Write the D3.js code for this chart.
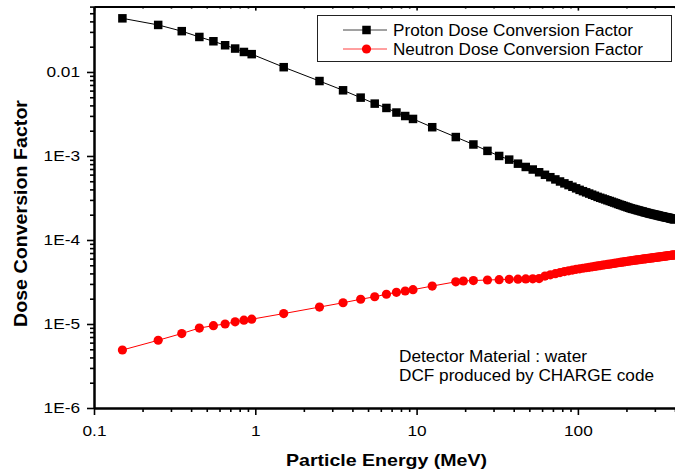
<!DOCTYPE html>
<html><head><meta charset="utf-8">
<script src="https://cdn.jsdelivr.net/npm/d3@7"></script>
<style>
body{margin:0;background:#fff;}
svg{display:block;font-family:"Liberation Sans",Arial,Helvetica,sans-serif;}
</style>
</head><body>
<svg id="chart" width="675" height="476"></svg>
<script>
// ---------- data ----------
const protonEnergy = [0.15,0.25,0.35,0.45,0.55,0.65,0.75,0.85,0.95,1.5,2.5,3.5,4.5,5.5,6.5,7.5,8.5,9.5,
  12.5,17.5,22.5,27.5,32.5,37.5,42.5,47.5,52.5,57.5,
  62.5,67.5,72.5,77.5,82.5,87.5,92.5,97.5,102.5,107.5,112.5,117.5,122.5,127.5,132.5,137.5,142.5,147.5,
  152.5,157.5,162.5,167.5,172.5,177.5,182.5,187.5,192.5,197.5,202.5,207.5,212.5,217.5,222.5,227.5,
  232.5,237.5,242.5,247.5,252.5,257.5,262.5,267.5,272.5,277.5,282.5,287.5,292.5,297.5,302.5,307.5,
  312.5,317.5,322.5,327.5,332.5,337.5,342.5,347.5,352.5,357.5,362.5,367.5,372.5,377.5,382.5,387.5,392.5,397.5];
const protonDCF = [4.35e-2,3.63e-2,3.06e-2,2.61e-2,2.32e-2,2.08e-2,1.90e-2,1.73e-2,1.63e-2,1.14e-2,7.8e-3,
  6.05e-3,4.95e-3,4.2e-3,3.73e-3,3.29e-3,2.99e-3,2.76e-3,
  2.2e-3,1.68e-3,1.37e-3,1.15e-3,1.0e-3,9.05e-4,8.1e-4,7.4e-4,6.9e-4,6.4e-4,
  5.97e-4,5.59e-4,5.26e-4,4.97e-4,4.72e-4,4.50e-4,4.30e-4,4.12e-4,3.95e-4,3.81e-4,3.69e-4,3.57e-4,3.46e-4,3.36e-4,3.26e-4,3.18e-4,3.11e-4,3.04e-4,
  2.97e-4,2.91e-4,2.85e-4,2.79e-4,2.74e-4,2.68e-4,2.63e-4,2.59e-4,2.54e-4,2.50e-4,2.46e-4,2.42e-4,2.38e-4,2.35e-4,2.33e-4,2.30e-4,
  2.27e-4,2.25e-4,2.22e-4,2.20e-4,2.18e-4,2.15e-4,2.13e-4,2.11e-4,2.09e-4,2.07e-4,2.05e-4,2.04e-4,2.02e-4,2.01e-4,1.99e-4,1.98e-4,
  1.96e-4,1.95e-4,1.93e-4,1.92e-4,1.91e-4,1.90e-4,1.88e-4,1.87e-4,1.86e-4,1.85e-4,1.84e-4,1.83e-4,1.81e-4,1.80e-4,1.79e-4,1.78e-4,1.77e-4,1.76e-4];
const neutronEnergy = [0.15,0.25,0.35,0.45,0.55,0.65,0.75,0.85,0.95,1.5,2.5,3.5,4.5,5.5,6.5,7.5,8.5,9.5,
  12.5,17.5,19.5,22.5,27.5,32.5,37.5,42.5,47.5,52.5,57.5,
  62.5,67.5,72.5,77.5,82.5,87.5,92.5,97.5,102.5,107.5,112.5,117.5,122.5,127.5,132.5,137.5,142.5,147.5,
  152.5,157.5,162.5,167.5,172.5,177.5,182.5,187.5,192.5,197.5,202.5,207.5,212.5,217.5,222.5,227.5,
  232.5,237.5,242.5,247.5,252.5,257.5,262.5,267.5,272.5,277.5,282.5,287.5,292.5,297.5,302.5,307.5,
  312.5,317.5,322.5,327.5,332.5,337.5,342.5,347.5,352.5,357.5,362.5,367.5,372.5,377.5,382.5,387.5,392.5,397.5];
const neutronDCF = [4.9e-6,6.4e-6,7.7e-6,8.95e-6,9.55e-6,1.0e-5,1.06e-5,1.11e-5,1.14e-5,1.33e-5,1.59e-5,
  1.79e-5,1.97e-5,2.11e-5,2.26e-5,2.38e-5,2.47e-5,2.56e-5,
  2.83e-5,3.18e-5,3.25e-5,3.29e-5,3.34e-5,3.37e-5,3.40e-5,3.42e-5,3.44e-5,3.45e-5,3.47e-5,
  3.72e-5,3.85e-5,3.97e-5,4.09e-5,4.21e-5,4.30e-5,4.38e-5,4.47e-5,4.54e-5,4.61e-5,4.67e-5,4.73e-5,4.79e-5,4.85e-5,4.91e-5,4.96e-5,5.01e-5,5.07e-5,
  5.12e-5,5.16e-5,5.21e-5,5.26e-5,5.31e-5,5.36e-5,5.40e-5,5.45e-5,5.48e-5,5.53e-5,5.57e-5,5.61e-5,5.65e-5,5.69e-5,5.73e-5,5.75e-5,
  5.79e-5,5.82e-5,5.85e-5,5.89e-5,5.92e-5,5.95e-5,5.97e-5,6.00e-5,6.03e-5,6.06e-5,6.09e-5,6.12e-5,6.14e-5,6.17e-5,6.20e-5,6.22e-5,
  6.25e-5,6.27e-5,6.30e-5,6.32e-5,6.35e-5,6.37e-5,6.40e-5,6.42e-5,6.45e-5,6.47e-5,6.49e-5,6.52e-5,6.54e-5,6.56e-5,6.59e-5,6.61e-5,6.63e-5,6.65e-5];

const xTickValues = [0.1, 1, 10, 100];
const xTickLabels = ["0.1", "1", "10", "100"];
const yTickValues = [1e-6, 1e-5, 1e-4, 1e-3, 1e-2];
const yTickLabels = ["1E-6", "1E-5", "1E-4", "1E-3", "0.01"];
const seriesNames = ["Proton Dose Conversion Factor", "Neutron Dose Conversion Factor"];
const noteLines = ["Detector Material : water", "DCF produced by CHARGE code"];
const xTitle = "Particle Energy (MeV)";
const yTitle = "Dose Conversion Factor";

// ---------- layout ----------
const svg = d3.select("#chart");
const STRETCH = 1.15;
const x = d3.scaleLog().domain([0.1, 400]).range([94, 675]);
const y = d3.scaleLog().domain([1e-6, 0.06]).range([408, 6.6]);

function minorTicks(lo, hi) {
  const out = [];
  for (let d = lo; d < hi; d *= 10)
    for (let k = 2; k <= 9; k++) { const v = k * d; if (v <= hi * 1.0001) out.push(v); }
  return out;
}
const xMinor = minorTicks(0.1, 400);
const yMinor = minorTicks(1e-6, 0.06);

function stretchText(sel, factor) {
  sel.each(function () {
    const w = this.getComputedTextLength();
    d3.select(this).attr("textLength", w * factor).attr("lengthAdjust", "spacingAndGlyphs");
  });
}

// ---------- series ----------
const protonPts = protonEnergy.map((e, i) => [e, protonDCF[i]]);
const neutronPts = neutronEnergy.map((e, i) => [e, neutronDCF[i]]);
const line = d3.line().x(d => x(d[0])).y(d => y(d[1]));

svg.append("path").datum(protonPts).attr("d", line)
  .attr("fill", "none").attr("stroke", "#000").attr("stroke-width", 1);
svg.append("path").datum(neutronPts).attr("d", line)
  .attr("fill", "none").attr("stroke", "#ff0000").attr("stroke-width", 1);

const sq = 8.5;
svg.append("g").selectAll("rect").data(protonPts).join("rect")
  .attr("x", d => x(d[0]) - sq / 2).attr("y", d => y(d[1]) - sq / 2)
  .attr("width", sq).attr("height", sq)
  .attr("fill", "#000");
svg.append("g").selectAll("circle").data(neutronPts).join("circle")
  .attr("cx", d => x(d[0])).attr("cy", d => y(d[1])).attr("r", 4.6)
  .attr("fill", "#ff0000");

// ---------- axes ----------
function styleAxis(g) {
  g.select(".domain").attr("stroke", "#000").attr("stroke-width", 2);
  g.selectAll(".tick line").attr("stroke", "#000").attr("stroke-width", 1.6);
  g.selectAll(".tick text").attr("fill", "#000").attr("font-size", 15)
    .attr("font-family", "'Liberation Sans', Arial, sans-serif");
}

// bottom
const gxMinor = svg.append("g").attr("transform", "translate(0,408)")
  .call(d3.axisBottom(x).tickValues(xMinor).tickSize(4).tickSizeOuter(0).tickFormat(""));
styleAxis(gxMinor);
const gx = svg.append("g").attr("transform", "translate(0,408)")
  .call(d3.axisBottom(x).tickValues(xTickValues).tickSize(7).tickSizeOuter(0)
    .tickPadding(10).tickFormat((d, i) => xTickLabels[i]));
styleAxis(gx);
stretchText(gx.selectAll(".tick text"), STRETCH);

// left
const gyMinor = svg.append("g").attr("transform", "translate(94,0)")
  .call(d3.axisLeft(y).tickValues(yMinor).tickSize(4).tickSizeOuter(0).tickFormat(""));
styleAxis(gyMinor);
const gy = svg.append("g").attr("transform", "translate(94,0)")
  .call(d3.axisLeft(y).tickValues(yTickValues).tickSize(7).tickSizeOuter(0)
    .tickPadding(7).tickFormat((d, i) => yTickLabels[i]));
styleAxis(gy);
stretchText(gy.selectAll(".tick text"), STRETCH);

// top frame with small inward ticks
const gtMinor = svg.append("g").attr("transform", "translate(0,6.6)")
  .call(d3.axisTop(x).tickValues(xMinor).tickSize(-2).tickSizeOuter(0).tickFormat(""));
styleAxis(gtMinor);
const gt = svg.append("g").attr("transform", "translate(0,6.6)")
  .call(d3.axisTop(x).tickValues(xTickValues).tickSize(-4).tickSizeOuter(0).tickFormat(""));
styleAxis(gt);

// ---------- titles ----------
const xt = svg.append("text").attr("x", 386.5).attr("y", 466)
  .attr("text-anchor", "middle").attr("font-weight", "bold").attr("font-size", 17)
  .attr("fill", "#000").text(xTitle);
xt.attr("textLength", 201).attr("lengthAdjust", "spacingAndGlyphs");

const yt = svg.append("text").attr("transform", "translate(27,213.5) rotate(-90)")
  .attr("text-anchor", "middle").attr("font-weight", "bold").attr("font-size", 18)
  .attr("fill", "#000").text(yTitle);
yt.attr("textLength", 227).attr("lengthAdjust", "spacingAndGlyphs");

// ---------- legend ----------
const lg = svg.append("g");
lg.append("rect").attr("x", 317.5).attr("y", 15.5).attr("width", 354).attr("height", 46)
  .attr("fill", "#fff").attr("stroke", "#222").attr("stroke-width", 1);
const rows = [
  {name: seriesNames[0], color: "#000", lineColor: "#444", y: 30, w: 240, marker: "square"},
  {name: seriesNames[1], color: "#ff0000", lineColor: "#ff4040", y: 49, w: 250, marker: "circle"}
];
rows.forEach(r => {
  lg.append("line").attr("x1", 343).attr("x2", 387).attr("y1", r.y).attr("y2", r.y)
    .attr("stroke", r.lineColor).attr("stroke-width", 1);
  if (r.marker === "square")
    lg.append("rect").attr("x", 366.5 - sq / 2).attr("y", r.y - sq / 2).attr("width", sq).attr("height", sq)
      .attr("fill", "#000");
  else
    lg.append("circle").attr("cx", 366.5).attr("cy", r.y).attr("r", 4.6).attr("fill", r.color);
  lg.append("text").attr("x", 393).attr("y", r.y + 5.8).attr("font-size", 16).attr("fill", "#000")
    .attr("textLength", r.w).attr("lengthAdjust", "spacingAndGlyphs").text(r.name);
});

// ---------- annotation ----------
const noteWidths = [188, 255];
const noteBase = [361.7, 380.7];
noteLines.forEach((t, i) => {
  svg.append("text").attr("x", 399).attr("y", noteBase[i]).attr("font-size", 16).attr("fill", "#000")
    .attr("textLength", noteWidths[i]).attr("lengthAdjust", "spacingAndGlyphs").text(t);
});
</script>
</body></html>
